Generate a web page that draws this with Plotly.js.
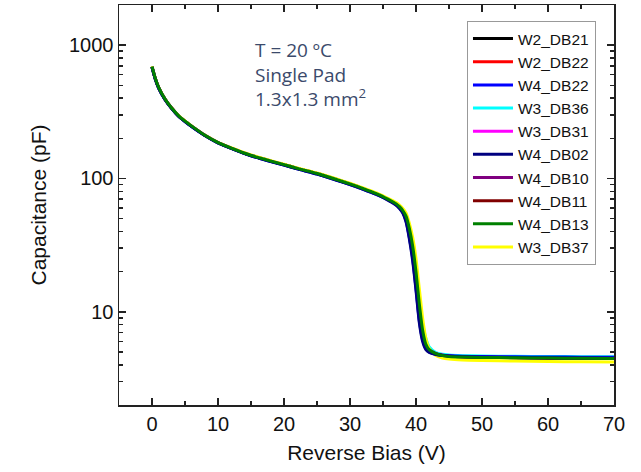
<!DOCTYPE html>
<html>
<head>
<meta charset="utf-8">
<script src="https://cdn.plot.ly/plotly-3.0.1.min.js"></script>
<style>html,body{margin:0;padding:0;background:#fff;}#chart{width:641px;height:472px;}</style>
</head>
<body>
<div id="chart"></div>
<script>
// Reverse bias voltage (V), shared by all series
const voltage = [0, 0.5, 1, 2, 3, 4, 5, 6, 8, 10, 12, 15, 18, 20, 22, 25, 28, 30, 32, 34, 35, 36, 37, 37.5, 38, 38.5, 39, 39.5, 40, 40.5, 41, 41.5, 42, 43, 44, 45, 47, 50, 55, 60, 65, 70];

// Capacitance (pF) per sensor
const W2_DB21 = [688, 560, 481, 391, 336, 296, 269, 247, 211, 186, 169, 149, 135, 127, 119, 109, 98, 91, 84, 77, 73, 69, 64.5, 61.5, 57, 51, 40, 29, 18.5, 10.5, 7.0, 5.6, 5.15, 4.85, 4.72, 4.66, 4.6, 4.57, 4.53, 4.5, 4.48, 4.47];
const W2_DB22 = [690, 562, 482, 392, 336, 296, 269, 247, 211, 186, 169, 149, 135, 127, 119, 109, 98, 91, 84, 77, 73, 69, 64.5, 61.5, 57.5, 51.5, 41, 30, 19.5, 11, 7.2, 5.7, 5.2, 4.86, 4.73, 4.67, 4.61, 4.58, 4.54, 4.51, 4.49, 4.48];
const W4_DB22 = [685, 558, 479, 389, 334, 294, 267, 245, 210, 185, 168, 148, 134, 126, 118, 108, 97, 90, 83, 76, 72, 68, 63.5, 60, 55.5, 48, 36, 25, 15, 8.6, 6.2, 5.3, 5.0, 4.8, 4.72, 4.68, 4.64, 4.62, 4.6, 4.58, 4.57, 4.56];
const W3_DB36 = [689, 561, 481, 391, 335, 295, 268, 246, 211, 186, 169, 149, 135, 127, 119, 109, 98, 91, 84, 77, 73, 69, 64.5, 61.5, 57.5, 52, 42, 31, 20.5, 12, 8.2, 6.3, 5.45, 4.95, 4.8, 4.74, 4.69, 4.66, 4.64, 4.62, 4.61, 4.6];
const W3_DB31 = [687, 560, 480, 390, 335, 295, 268, 246, 211, 186, 169, 149, 135, 127, 119, 109, 98, 91, 84, 77, 73, 69, 64.5, 61.5, 57, 51.5, 41, 30, 19, 11, 7.2, 5.7, 5.2, 4.86, 4.73, 4.67, 4.62, 4.59, 4.55, 4.52, 4.5, 4.49];
const W4_DB02 = [684, 557, 478, 389, 334, 294, 267, 245, 210, 185, 168, 148, 134, 126, 118, 108, 97, 90, 83, 76, 72, 67.5, 63, 59.5, 55, 47, 35, 24, 14.5, 8.3, 6.0, 5.2, 4.95, 4.78, 4.7, 4.65, 4.6, 4.57, 4.54, 4.52, 4.5, 4.49];
const W4_DB10 = [688, 560, 481, 391, 335, 295, 268, 246, 211, 186, 169, 149, 135, 127, 119, 109, 98, 91, 84, 77, 73, 69, 64.5, 61, 57, 51, 40.5, 29.5, 19, 10.8, 7.1, 5.65, 5.15, 4.84, 4.71, 4.65, 4.59, 4.56, 4.52, 4.49, 4.47, 4.46];
const W4_DB11 = [689, 561, 481, 391, 336, 296, 269, 247, 211, 186, 169, 149, 135, 127, 119, 109, 98, 91, 84, 77, 73, 69, 64.5, 61.5, 57.5, 51.5, 41.5, 30.5, 19.5, 11.2, 7.3, 5.7, 5.2, 4.85, 4.72, 4.66, 4.6, 4.57, 4.53, 4.5, 4.48, 4.47];
const W4_DB13 = [690, 562, 482, 392, 336, 296, 269, 247, 211, 186, 169, 149, 135, 127, 119, 109, 98, 91, 84, 77, 73, 69, 64.5, 61.5, 57.5, 52, 42, 31, 20, 11.5, 7.3, 5.7, 5.2, 4.85, 4.7, 4.63, 4.58, 4.55, 4.52, 4.5, 4.48, 4.47];
const W3_DB37 = [692, 564, 484, 393, 337, 297, 270, 248, 212, 187, 170, 150, 136, 128, 120, 110, 99, 92, 85, 78, 74, 70, 66, 63, 59.5, 55, 46, 36, 25, 15, 9.0, 6.3, 5.3, 4.7, 4.5, 4.42, 4.35, 4.31, 4.27, 4.24, 4.22, 4.21];

const seriesNames = ["W2_DB21", "W2_DB22", "W4_DB22", "W3_DB36", "W3_DB31", "W4_DB02", "W4_DB10", "W4_DB11", "W4_DB13", "W3_DB37"];
const seriesValues = [W2_DB21, W2_DB22, W4_DB22, W3_DB36, W3_DB31, W4_DB02, W4_DB10, W4_DB11, W4_DB13, W3_DB37];
const seriesColors = ["#000000", "#ff0000", "#0000ff", "#00ffff", "#ff00ff", "#000080", "#800080", "#800000", "#008000", "#ffff00"];

// drawing order (green on top, as in the reference)
const drawOrder = [0, 1, 3, 4, 6, 7, 9, 2, 5, 8];

const xMajorTicks = [0, 10, 20, 30, 40, 50, 60, 70];
const xMinorTicks = [-5, 5, 15, 25, 35, 45, 55, 65];
const yMajorTicks = [10, 100, 1000];
const yMajorLabels = ["10", "100", "1000"];
const yMinorTicks = [2,3,4,5,6,7,8,9,20,30,40,50,60,70,80,90,200,300,400,500,600,700,800,900,2000];

const traces = drawOrder.map(i => ({
  type: "scatter",
  mode: "lines",
  x: voltage,
  y: seriesValues[i],
  name: seriesNames[i],
  legendrank: i + 1,
  line: {color: seriesColors[i], width: 3, shape: "spline", smoothing: 0.6}
}));

const fam = "Liberation Sans, Arial, sans-serif";
const tickFont = {family: fam, size: 20, color: "#111"};

const layout = {
  width: 641, height: 472,
  margin: {l: 119, r: 27, t: 5, b: 67},
  paper_bgcolor: "#fff", plot_bgcolor: "#fff",
  showlegend: true,
  legend: {
    x: 0.9636, xanchor: "right", y: 0.96, yanchor: "top",
    bgcolor: "#fff", bordercolor: "#999", borderwidth: 1,
    font: {family: fam, size: 15.5, color: "#111"},
    itemwidth: 40, tracegroupgap: 0
  },
  xaxis: {
    range: [-5, 70],
    tickmode: "array", tickvals: xMajorTicks,
    ticks: "inside", ticklen: 7, tickwidth: 1.5, tickcolor: "#222",
    minor: {tickmode: "array", tickvals: xMinorTicks, ticks: "inside", ticklen: 4, tickwidth: 1.5, tickcolor: "#222"},
    showline: true, linecolor: "#222", linewidth: 1.5, mirror: "allticks",
    showgrid: false, zeroline: false,
    tickfont: tickFont,
    title: {text: "Reverse Bias (V)", font: {family: fam, size: 21, color: "#111"}, standoff: 12}
  },
  yaxis: {
    type: "log",
    range: [Math.log10(2), Math.log10(2000)],
    tickmode: "array", tickvals: yMajorTicks, ticktext: yMajorLabels,
    ticks: "inside", ticklen: 7, tickwidth: 1.5, tickcolor: "#222",
    minor: {tickmode: "array", tickvals: yMinorTicks, ticks: "inside", ticklen: 4, tickwidth: 1.5, tickcolor: "#222"},
    showline: true, linecolor: "#222", linewidth: 1.5, mirror: "allticks",
    showgrid: false, zeroline: false,
    tickfont: tickFont,
    title: {text: "Capacitance (pF)", font: {family: fam, size: 21, color: "#111"}, standoff: 16}
  },
  annotations: [{
    xref: "paper", yref: "paper", x: 0.271, y: 0.925, xanchor: "left", yanchor: "top",
    align: "left", showarrow: false,
    text: "T = 20 ºC<br>Single Pad<br>1.3x1.3 mm<sup>2</sup>",
    font: {family: "Open Sans, sans-serif", size: 19, color: "#3b4a6b"}
  }]
};

Plotly.newPlot("chart", traces, layout, {displayModeBar: false, staticPlot: true});
</script>
</body>
</html>
